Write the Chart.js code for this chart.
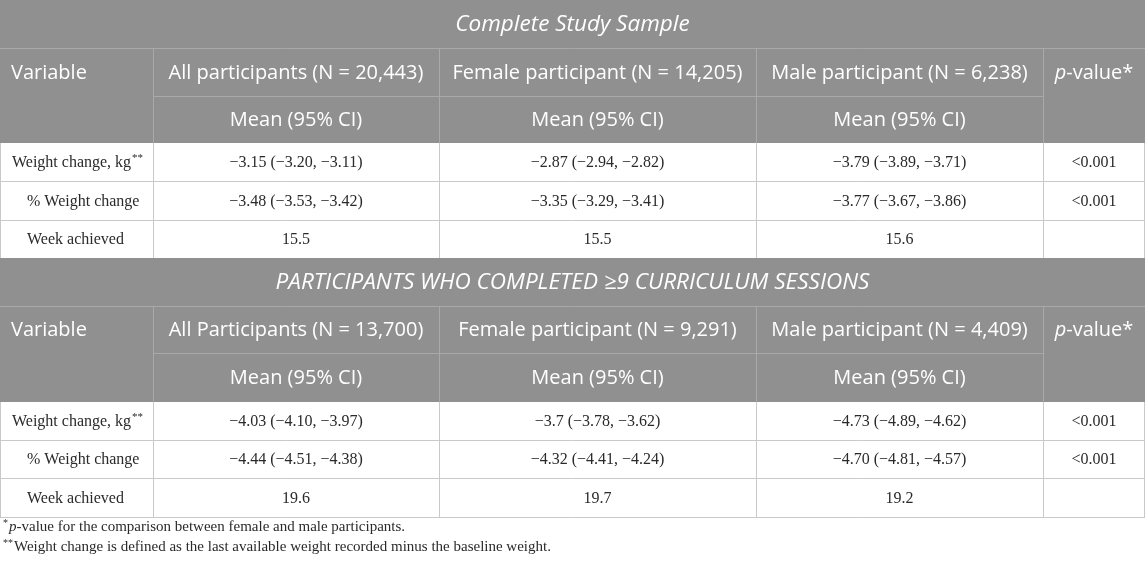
<!DOCTYPE html>
<html>
<head>
<meta charset="utf-8">
<script src="https://cdn.jsdelivr.net/npm/chart.js@4.4.1/dist/chart.umd.min.js"></script>
<style>
html,body{margin:0;padding:0;background:#ffffff;}
#wrap{width:1145px;height:564px;position:relative;}
</style>
</head>
<body>
<div id="wrap"><canvas id="c"></canvas></div>
<script>
// ---------- data ----------
const blockTitles = ["Complete Study Sample", "PARTICIPANTS WHO COMPLETED \u22659 CURRICULUM SESSIONS"];
const variables = ["Weight change, kg**", "% Weight change", "Week achieved"];
const groupHeaders1 = ["All participants (N = 20,443)", "Female participant (N = 14,205)", "Male participant (N = 6,238)"];
const groupHeaders2 = ["All Participants (N = 13,700)", "Female participant (N = 9,291)", "Male participant (N = 4,409)"];
const subHeader = "Mean (95% CI)";
const allValues1 = ["\u22123.15 (\u22123.20, \u22123.11)", "\u22123.48 (\u22123.53, \u22123.42)", "15.5"];
const femaleValues1 = ["\u22122.87 (\u22122.94, \u22122.82)", "\u22123.35 (\u22123.29, \u22123.41)", "15.5"];
const maleValues1 = ["\u22123.79 (\u22123.89, \u22123.71)", "\u22123.77 (\u22123.67, \u22123.86)", "15.6"];
const pValues1 = ["<0.001", "<0.001", ""];
const allValues2 = ["\u22124.03 (\u22124.10, \u22123.97)", "\u22124.44 (\u22124.51, \u22124.38)", "19.6"];
const femaleValues2 = ["\u22123.7 (\u22123.78, \u22123.62)", "\u22124.32 (\u22124.41, \u22124.24)", "19.7"];
const maleValues2 = ["\u22124.73 (\u22124.89, \u22124.62)", "\u22124.70 (\u22124.81, \u22124.57)", "19.2"];
const pValues2 = ["<0.001", "<0.001", ""];
const footnotes = [
  [["sup","*"],["it","p"],["n","-value for the comparison between female and male participants."]],
  [["sup","**"],["n","Weight change is defined as the last available weight recorded minus the baseline weight."]]
];

// ---------- layout (table grid in scale units) ----------
const colEdges = [0, 153, 439, 756, 1043, 1145];
const blockRows = [
  [0, 48, 96, 143, 181, 220, 258],
  [258, 306, 353, 402, 440, 478, 517]
];
const footnoteY = [527, 547];

const blocks = [
  {title: blockTitles[0], headers: groupHeaders1, cols: [allValues1, femaleValues1, maleValues1], p: pValues1},
  {title: blockTitles[1], headers: groupHeaders2, cols: [allValues2, femaleValues2, maleValues2], p: pValues2}
];

const GRAY = '#909090';
const HLINE = '#a9a9a9';
const DLINE = '#c9c9c9';
const TXT = '#2a2a2a';
const SANS = '"Open Sans", "Noto Sans", sans-serif';
const SERIF = '"Liberation Serif", "DejaVu Serif", serif';

const tablePlugin = {
  id: 'tablePlugin',
  afterDraw(chart) {
    const ctx = chart.ctx;
    const xs = chart.scales.x, ys = chart.scales.y;
    const X = v => xs.getPixelForValue(v);
    const Y = v => ys.getPixelForValue(v);
    const xL = colEdges[0], xR = colEdges[colEdges.length - 1];
    ctx.save();

    const hline = (x0, x1, y, c) => {
      ctx.strokeStyle = c; ctx.lineWidth = 1;
      ctx.beginPath(); ctx.moveTo(X(x0), Math.round(Y(y)) + 0.5); ctx.lineTo(X(x1), Math.round(Y(y)) + 0.5); ctx.stroke();
    };
    const vline = (x, y0, y1, c) => {
      ctx.strokeStyle = c; ctx.lineWidth = 1;
      const px = Math.min(Math.round(X(x)) + 0.5, X(xR) - 0.5);
      ctx.beginPath(); ctx.moveTo(px, Y(y0)); ctx.lineTo(px, Y(y1)); ctx.stroke();
    };
    const text = (s, x, y, font, color, align) => {
      ctx.font = font; ctx.fillStyle = color; ctx.textAlign = align; ctx.textBaseline = 'middle';
      ctx.fillText(s, X(x), Y(y));
    };
    const textSup = (s, x, y, size, color) => {
      const m = s.match(/^(.*?)(\*+)$/);
      ctx.fillStyle = color; ctx.textBaseline = 'middle'; ctx.textAlign = 'left';
      if (!m) { ctx.font = size + 'px ' + SERIF; ctx.fillText(s, X(x), Y(y)); return; }
      ctx.font = size + 'px ' + SERIF;
      ctx.fillText(m[1], X(x), Y(y));
      const w = ctx.measureText(m[1]).width;
      ctx.font = Math.round(size * 0.7) + 'px ' + SERIF;
      ctx.fillText(m[2], X(x) + w + 1, Y(y) - size * 0.3);
    };

    blocks.forEach((b, bi) => {
      const r = blockRows[bi];
      ctx.fillStyle = GRAY;
      ctx.fillRect(X(xL), Y(r[0]), X(xR) - X(xL), Y(r[3]) - Y(r[0]));
      hline(xL, xR, r[1], HLINE);
      hline(colEdges[1], colEdges[4], r[2], HLINE);
      for (let c = 1; c <= 4; c++) vline(colEdges[c], r[1], r[3], HLINE);
      // title
      text(b.title, (xL + xR) / 2, (r[0] + r[1]) / 2 + 1, 'italic 22.5px ' + SANS, '#ffffff', 'center');
      // header row
      const hy = (r[1] + r[2]) / 2 + 1;
      text('Variable', 11, hy, '20px ' + SANS, '#ffffff', 'left');
      b.headers.forEach((h, i) => text(h, (colEdges[i + 1] + colEdges[i + 2]) / 2, hy, '20px ' + SANS, '#ffffff', 'center'));
      ctx.font = 'italic 20px ' + SANS; const wp = ctx.measureText('p').width;
      ctx.font = '20px ' + SANS; const wr = ctx.measureText('-value*').width;
      const pc = X((colEdges[4] + colEdges[5]) / 2);
      ctx.fillStyle = '#ffffff'; ctx.textAlign = 'left'; ctx.textBaseline = 'middle';
      ctx.font = 'italic 20px ' + SANS; ctx.fillText('p', pc - (wp + wr) / 2, Y(hy));
      ctx.font = '20px ' + SANS; ctx.fillText('-value*', pc - (wp + wr) / 2 + wp, Y(hy));
      // sub header
      const sy = (r[2] + r[3]) / 2 + 1;
      for (let i = 0; i < 3; i++) text(subHeader, (colEdges[i + 1] + colEdges[i + 2]) / 2, sy, '20px ' + SANS, '#ffffff', 'center');
      // data rows
      for (let k = 0; k < variables.length; k++) {
        const y0 = r[3 + k], y1 = r[4 + k], my = (y0 + y1) / 2 + 1;
        textSup(variables[k], k === 0 ? 12 : 27, my, 16, TXT);
        b.cols.forEach((col, i) => text(col[k], (colEdges[i + 1] + colEdges[i + 2]) / 2, my, '16px ' + SERIF, TXT, 'center'));
        text(b.p[k], (colEdges[4] + colEdges[5]) / 2, my, '16px ' + SERIF, TXT, 'center');
        hline(xL, xR, y1, DLINE);
        for (let c = 0; c < colEdges.length; c++) vline(colEdges[c], y0, y1, DLINE);
      }
    });

    // footnotes
    footnotes.forEach((parts, i) => {
      let x = X(3); const y = Y(footnoteY[i]);
      ctx.fillStyle = TXT; ctx.textBaseline = 'middle'; ctx.textAlign = 'left';
      parts.forEach(([kind, s]) => {
        if (kind === 'sup') { ctx.font = '10px ' + SERIF; ctx.fillText(s, x, y - 4); }
        else if (kind === 'it') { ctx.font = 'italic 15px ' + SERIF; ctx.fillText(s, x, y); }
        else { ctx.font = '15px ' + SERIF; ctx.fillText(s, x, y); }
        x += ctx.measureText(s).width + (kind === 'sup' ? 1 : 0);
      });
    });
    ctx.restore();
  }
};

new Chart(document.getElementById('c'), {
  type: 'scatter',
  data: { datasets: [{ data: [], pointRadius: 0 }] },
  options: {
    responsive: true,
    maintainAspectRatio: false,
    animation: false,
    layout: { padding: 0 },
    plugins: { legend: { display: false }, tooltip: { enabled: false } },
    scales: {
      x: { type: 'linear', min: colEdges[0], max: colEdges[colEdges.length - 1], display: false },
      y: { type: 'linear', min: 0, max: 564, reverse: true, display: false }
    }
  },
  plugins: [tablePlugin]
});
</script>
</body>
</html>
